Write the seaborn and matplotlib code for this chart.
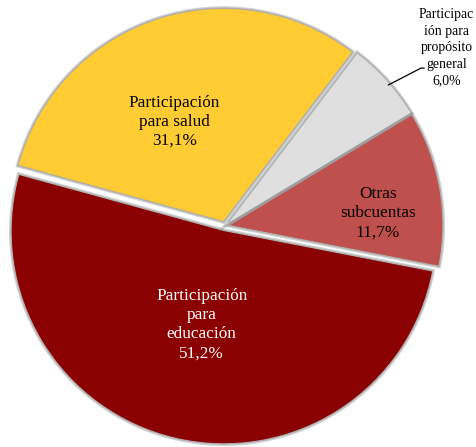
import matplotlib
matplotlib.use("Agg")
import matplotlib.pyplot as plt
import matplotlib.patheffects as pe
import seaborn as sns

# Data
categorias = ["Participación\npara\neducación", "Otras\nsubcuentas",
              "Participac\nión para\npropósito\ngeneral", "Participación\npara salud"]
valores = [51.2, 11.7, 6.0, 31.1]
etiquetas_pct = ["51,2%", "11,7%", "6,0%", "31,1%"]
colores = ["#8B0000", "#C0504D", "#E0DFE0", "#FFCC33"]

sns.set_theme(style="white")
plt.rcParams["font.family"] = ["Liberation Serif", "DejaVu Serif"]

fig = plt.figure(figsize=(4.77, 4.47), dpi=100)
ax = fig.add_axes([0, 0, 1, 1])
scale = 212.0  # pixels per unit radius
cx, cy = 225.0, 226.0

glow = [pe.Stroke(linewidth=4.0, foreground="#7f7f7f", alpha=0.35),
        pe.Stroke(linewidth=2.2, foreground="#7f7f7f", alpha=0.4),
        pe.Normal()]
wedges, _ = ax.pie(valores, colors=colores, startangle=164.7, counterclock=True,
                   explode=[0.025, 0.025, 0.025, 0.025], radius=1.0,
                   wedgeprops=dict(linewidth=0))
for w in wedges:
    w.set_path_effects(glow)

ax.set_aspect("auto")
ax.set_xlim(-cx / scale, (477 - cx) / scale)
ax.set_ylim(-(447 - cy) / scale, cy / scale)
ax.axis("off")

# Labels
ax.text(-0.11, -0.465, categorias[0] + "\n" + etiquetas_pct[0], ha="center", va="center",
        fontsize=12.4, color="white", linespacing=1.28)
ax.text(0.72, 0.06, categorias[1] + "\n" + etiquetas_pct[1], ha="center", va="center",
        fontsize=12.4, color="black", linespacing=1.28)
ax.text(-0.24, 0.49, categorias[3] + "\n" + etiquetas_pct[3], ha="center", va="center",
        fontsize=12.4, color="black", linespacing=1.25)
ax.text(1.045, 0.84, categorias[2] + "\n" + etiquetas_pct[2], ha="center", va="center",
        fontsize=9.9, color="black", linespacing=1.36)
ax.plot([0.77, 0.925, 0.94], [0.665, 0.745, 0.745], color="black", linewidth=0.9)

fig.savefig("out.png", dpi=100, facecolor="white")
